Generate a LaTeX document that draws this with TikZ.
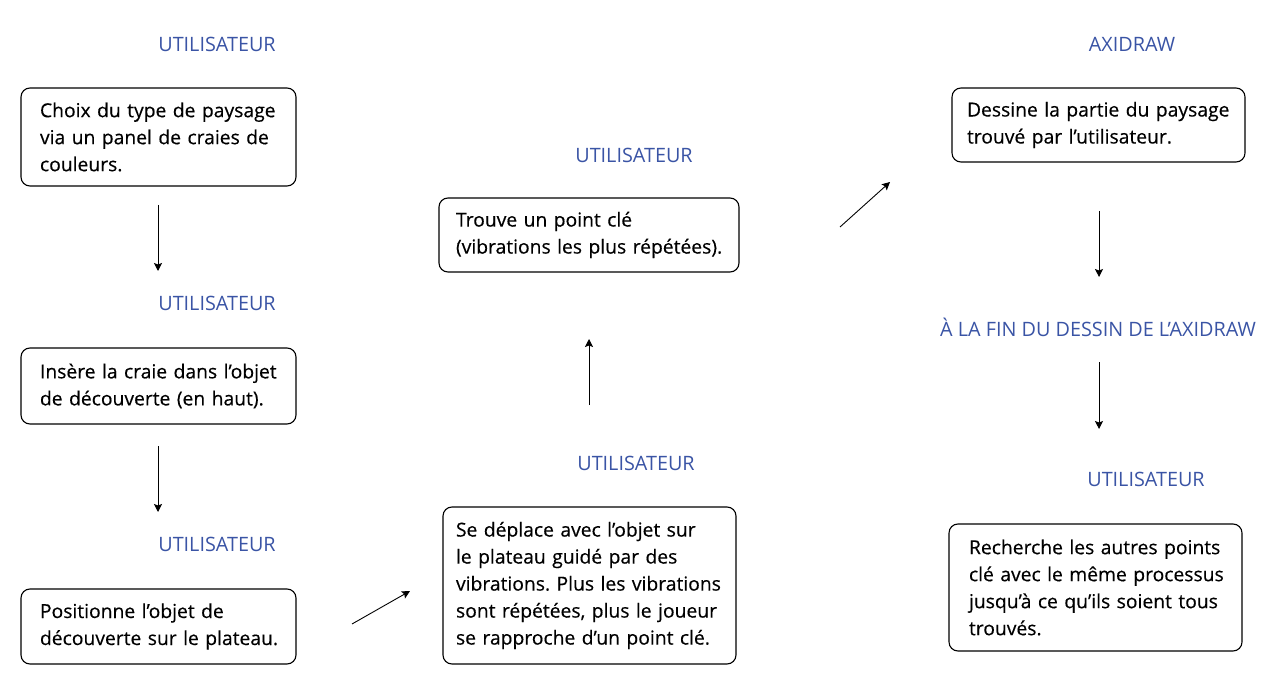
\documentclass[tikz,border=0pt]{standalone}
\usepackage{fontspec}
\setmainfont{Open Sans}
\newfontfamily\cardfont[FakeBold=0.35]{Open Sans}
\usetikzlibrary{arrows.meta}
\definecolor{lblue}{RGB}{58,84,165}
\newcommand\lx[1]{\mbox{#1}}
\begin{document}
\frenchspacing
\begin{tikzpicture}[x=1pt,y=-1pt,
  lbl/.style={text=lblue,font=\fontsize{19.8}{22}\selectfont,inner sep=0pt},
  card/.style={draw=black,line width=1.1pt,rounded corners=9pt,align=left,
    font=\cardfont\fontsize{19.3}{27}\selectfont,inner ysep=0pt},
  flow/.style={line width=0.9pt,-{Stealth[length=8pt,width=8pt,inset=1.5pt]}}]
\useasboundingbox (0,0) rectangle (1279,700);
% labels
\node[lbl] (l1) at (217,44) {UTILISATEUR};
\node[lbl] (l2) at (217,303) {UTILISATEUR};
\node[lbl] (l3) at (217,544) {UTILISATEUR};
\node[lbl] (l4) at (634,155) {UTILISATEUR};
\node[lbl] (l5) at (636,463) {UTILISATEUR};
\node[lbl] (l6) at (1132,44) {AXIDRAW};
\node[lbl] (l7) at (1098,327) {À LA FIN DU DESSIN DE L’AXIDRAW};
\node[lbl] (l8) at (1146,479) {UTILISATEUR};
% boxes
\node[card,inner xsep=19pt,text width=237pt,minimum height=98pt] (b1) at (158.5,137)
  {\lx{Choix du type de paysage}\\\lx{via un panel de craies de}\\\lx{couleurs.}};
\node[card,inner xsep=19pt,text width=237pt,minimum height=76pt] (b2) at (158.5,386)
  {\lx{Insère la craie dans l’objet}\\\lx{de découverte (en haut).}};
\node[card,inner xsep=19pt,text width=237pt,minimum height=75pt] (b3) at (158.5,626.5)
  {\lx{Positionne l’objet de}\\\lx{découverte sur le plateau.}};
\node[card,inner xsep=13pt,text width=267pt,minimum height=157pt] (b4) at (589.5,585.5)
  {\lx{Se déplace avec l’objet sur}\\\lx{le plateau guidé par des}\\\lx{vibrations. Plus les vibrations}\\\lx{sont répétées, plus le joueur}\\\lx{se rapproche d’un point clé.}};
\node[card,inner xsep=17pt,text width=266pt,minimum height=74pt] (b5) at (589,235)
  {\lx{Trouve un point clé}\\\lx{(vibrations les plus répétées).}};
\node[card,inner xsep=15pt,text width=263pt,minimum height=74pt] (b6) at (1098.5,125)
  {\lx{Dessine la partie du paysage}\\\lx{trouvé par l’utilisateur.}};
\node[card,inner xsep=20pt,text width=253pt,minimum height=127pt] (b7) at (1095.5,587.5)
  {\lx{Recherche les autres points}\\\lx{clé avec le même processus}\\\lx{jusqu’à ce qu’ils soient tous}\\\lx{trouvés.}};
% arrow end points
\coordinate (a1s) at (158,205); \coordinate (a1e) at (158,271);
\coordinate (a2s) at (158,446); \coordinate (a2e) at (158,512);
\coordinate (a3s) at (352,624); \coordinate (a3e) at (410,591);
\coordinate (a4s) at (589,405); \coordinate (a4e) at (589,339);
\coordinate (a5s) at (840,227); \coordinate (a5e) at (890,182);
\coordinate (a6s) at (1099,211); \coordinate (a6e) at (1099,277);
\coordinate (a7s) at (1099,362); \coordinate (a7e) at (1099,429);
\draw[flow] (a1s) -- (a1e);
\draw[flow] (a2s) -- (a2e);
\draw[flow] (a3s) -- (a3e);
\draw[flow] (a4s) -- (a4e);
\draw[flow] (a5s) -- (a5e);
\draw[flow] (a6s) -- (a6e);
\draw[flow] (a7s) -- (a7e);
\end{tikzpicture}
\end{document}
